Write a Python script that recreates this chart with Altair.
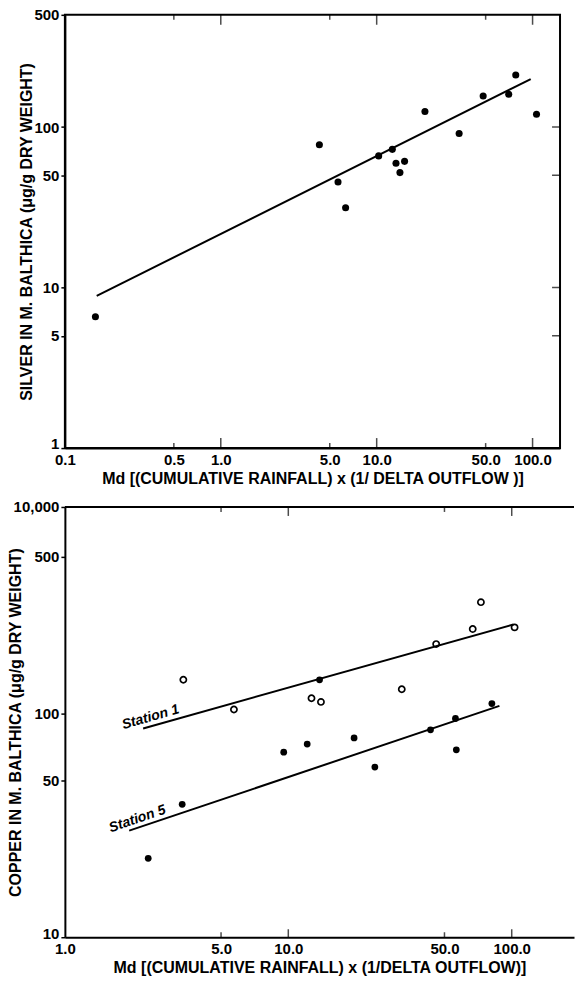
import altair as alt
import pandas as pd

# ---------------- Top panel: silver ----------------
ag_md = [0.157, 4.29, 5.65, 6.32, 10.3, 12.6, 13.3, 15.1, 14.1, 20.4, 33.8, 48.2, 70.3, 78.0, 106.0]
ag_val = [6.57, 77.6, 45.5, 31.4, 66.1, 72.6, 59.4, 61.1, 52.0, 125.0, 91.2, 156.0, 160.0, 211.0, 120.0]
ag_fit_md = [0.160, 97.3]
ag_fit_val = [8.87, 199.0]

ag_x_domain = [0.1, 150.0]
ag_y_domain = [1.0, 500.0]
ag_x_labels = [0.1, 0.5, 1, 5, 10, 50, 100]
ag_x_major = [1, 10, 100]
ag_x_minor = [0.5, 5, 50]
ag_y_labels = [1, 5, 10, 50, 100, 500]
ag_y_right = [5, 10, 50, 100]

# ---------------- Bottom panel: copper ----------------
cu1_md = [3.39, 5.71, 12.7, 14.0, 32.2, 45.9, 66.9, 72.8, 103.0]
cu1_val = [141.0, 103.9, 116.6, 112.3, 127.9, 203.5, 237.5, 313.0, 241.6]
cu5_md = [2.36, 3.35, 9.54, 12.15, 13.8, 19.7, 24.4, 43.3, 56.0, 56.5, 81.5]
cu5_val = [22.5, 39.2, 67.0, 72.8, 141.0, 77.6, 57.5, 84.3, 94.7, 68.6, 110.4]
fit1_md = [2.24, 101.8]
fit1_val = [85.5, 249.0]
fit5_md = [1.94, 88.1]
fit5_val = [29.9, 107.8]
station_names = ["Station 1", "Station 5"]
station_md = [2.42, 2.11]
station_val = [96.0, 33.7]

cu_x_domain = [1.0, 190.0]
cu_y_domain = [10.0, 833.0]
cu_top_label = "10,000"
cu_x_labels = [1, 5, 10, 50, 100]
cu_x_major = [10, 100]
cu_x_minor = [5, 50]
cu_y_labels = [10, 50, 100, 500, 833]

FONT = "Liberation Sans"
AG_W, AG_H = 496, 434
CU_W, CU_H = 510, 431


def edge_ticks(values, xname, yname, edge_value, on_x):
    if on_x:
        return pd.DataFrame({xname: values, yname: [edge_value] * len(values)})
    return pd.DataFrame({xname: [edge_value] * len(values), yname: values})


def tick_layer(df, size, orient):
    return alt.Chart(df).mark_tick(color="black", size=size, thickness=1.5,
                                   orient=orient, clip=True)


# ---------- silver chart ----------
ag_xs = alt.Scale(type="log", domain=ag_x_domain, nice=False)
ag_ys = alt.Scale(type="log", domain=ag_y_domain, nice=False)

ag_df = pd.DataFrame({"md": ag_md, "ag": ag_val})
ag_fit = pd.DataFrame({"md": ag_fit_md, "ag": ag_fit_val})

ag_x_axis = alt.Axis(values=ag_x_labels, format=".1f", ticks=False, labelFlush=False,
                     labelPadding=4,
                     title="Md [(CUMULATIVE RAINFALL) x (1/ DELTA OUTFLOW )]",
                     titlePadding=3)
ag_y_axis = alt.Axis(values=ag_y_labels, format="d", labelFlush=False,
                     labelOffset={"condition": {"test": "datum.value <= 1", "value": -5},
                                  "value": 0},
                     title="SILVER IN M. BALTHICA (\u03bcg/g DRY WEIGHT)",
                     titleX=-30, titleBaseline="bottom")

ag_points = alt.Chart(ag_df).mark_circle(size=50, color="black", opacity=1).encode(
    x=alt.X("md:Q", scale=ag_xs, axis=ag_x_axis),
    y=alt.Y("ag:Q", scale=ag_ys, axis=ag_y_axis),
)
ag_line = alt.Chart(ag_fit).mark_line(color="black", strokeWidth=2).encode(
    x=alt.X("md:Q", scale=ag_xs), y=alt.Y("ag:Q", scale=ag_ys)
)

ag_ticks = [
    tick_layer(edge_ticks(ag_x_major, "md", "ag", ag_y_domain[0], True), 20, "vertical"),
    tick_layer(edge_ticks(ag_x_minor, "md", "ag", ag_y_domain[0], True), 10, "vertical"),
    tick_layer(edge_ticks(ag_x_major, "md", "ag", ag_y_domain[1], True), 20, "vertical"),
    tick_layer(edge_ticks(ag_x_minor, "md", "ag", ag_y_domain[1], True), 10, "vertical"),
    tick_layer(edge_ticks(ag_y_right, "md", "ag", ag_x_domain[1], False), 16, "horizontal"),
]
ag_ticks = [t.encode(x=alt.X("md:Q", scale=ag_xs), y=alt.Y("ag:Q", scale=ag_ys)) for t in ag_ticks]

ag_chart = alt.layer(ag_line, ag_points, *ag_ticks).properties(width=AG_W, height=AG_H)

# ---------- copper chart ----------
cu_xs = alt.Scale(type="log", domain=cu_x_domain, nice=False)
cu_ys = alt.Scale(type="log", domain=cu_y_domain, nice=False)

cu1_df = pd.DataFrame({"cx": cu1_md, "cy": cu1_val})
cu5_df = pd.DataFrame({"cx": cu5_md, "cy": cu5_val})
fit1_df = pd.DataFrame({"cx": fit1_md, "cy": fit1_val})
fit5_df = pd.DataFrame({"cx": fit5_md, "cy": fit5_val})
lab_df = pd.DataFrame({"cx": station_md, "cy": station_val, "name": station_names})

cu_x_axis = alt.Axis(values=cu_x_labels, format=".1f", ticks=False, labelFlush=False,
                     labelPadding=4,
                     title="Md [(CUMULATIVE RAINFALL) x (1/DELTA OUTFLOW)]",
                     titlePadding=3)
cu_y_axis = alt.Axis(values=cu_y_labels, labelFlush=False,
                     labelOffset={"condition": {"test": "datum.value <= 10", "value": -4},
                                  "value": 0},
                     labelExpr=f"datum.value > 700 ? '{cu_top_label}' : format(datum.value, 'd')",
                     title="COPPER IN M. BALTHICA (\u03bcg/g DRY WEIGHT)",
                     titleX=-41, titleBaseline="bottom")

cu_enc = dict(x=alt.X("cx:Q", scale=cu_xs), y=alt.Y("cy:Q", scale=cu_ys))

cu_open = alt.Chart(cu1_df).mark_point(shape="circle", size=38, color="black",
                                       filled=False, strokeWidth=1.7, opacity=1).encode(
    x=alt.X("cx:Q", scale=cu_xs, axis=cu_x_axis),
    y=alt.Y("cy:Q", scale=cu_ys, axis=cu_y_axis),
)
cu_filled = alt.Chart(cu5_df).mark_circle(size=46, color="black", opacity=1).encode(**cu_enc)
cu_fit1 = alt.Chart(fit1_df).mark_line(color="black", strokeWidth=2).encode(**cu_enc)
cu_fit5 = alt.Chart(fit5_df).mark_line(color="black", strokeWidth=2).encode(**cu_enc)
lab1 = alt.Chart(lab_df.iloc[[0]]).mark_text(
    font=FONT, fontSize=14, fontStyle="italic", fontWeight="bold", angle=344, color="black"
).encode(text="name:N", **cu_enc)
lab5 = alt.Chart(lab_df.iloc[[1]]).mark_text(
    font=FONT, fontSize=14, fontStyle="italic", fontWeight="bold", angle=341, color="black"
).encode(text="name:N", **cu_enc)

top_border = alt.Chart(pd.DataFrame({"cx": [cu_x_domain[0]], "cx2": [cu_x_domain[1]],
                                     "cy": [cu_y_domain[1]]})).mark_rule(
    color="black", strokeWidth=2).encode(
    x=alt.X("cx:Q", scale=cu_xs), x2="cx2:Q", y=alt.Y("cy:Q", scale=cu_ys))

cu_ticks = [
    tick_layer(edge_ticks(cu_x_major, "cx", "cy", cu_y_domain[0], True), 16, "vertical"),
    tick_layer(edge_ticks(cu_x_minor, "cx", "cy", cu_y_domain[0], True), 10, "vertical"),
    tick_layer(edge_ticks(cu_x_major, "cx", "cy", cu_y_domain[1], True), 18, "vertical"),
    tick_layer(edge_ticks(cu_x_minor, "cx", "cy", cu_y_domain[1], True), 10, "vertical"),
]
cu_ticks = [t.encode(**cu_enc) for t in cu_ticks]

cu_chart = alt.layer(cu_fit1, cu_fit5, cu_open, cu_filled, lab1, lab5, top_border,
                     *cu_ticks).properties(
    width=CU_W, height=CU_H, view=alt.ViewConfig(stroke=None)
)

chart = alt.vconcat(ag_chart, cu_chart, spacing=13).resolve_scale(
    x="independent", y="independent"
).properties(
    padding={"left": 8, "top": 6, "right": 0, "bottom": 0}
).configure(
    background="white", font=FONT
).configure_view(
    stroke="black", strokeWidth=2
).configure_axis(
    grid=False, domainColor="black", domainWidth=2, tickColor="black", tickWidth=1.5,
    tickSize=4, labelColor="black", labelFont=FONT, labelFontSize=15,
    labelFontWeight="bold", labelPadding=2, titleColor="black", titleFont=FONT,
    titleFontSize=16, titleFontWeight="bold"
)

chart.save("out.html", embed_options={"renderer": "svg", "actions": False})
